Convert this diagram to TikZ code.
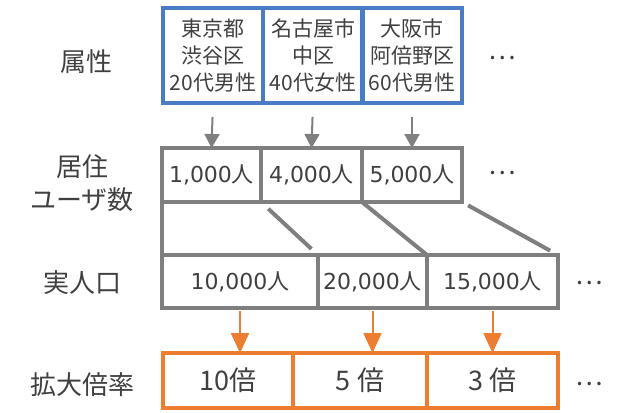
\documentclass[tikz,border=0pt]{standalone}
\usepackage{fontspec}
\setmainfont{Noto Sans CJK JP}
\newfontfamily\numfont{DejaVu Sans}
\usetikzlibrary{arrows.meta}
\definecolor{attrblue}{HTML}{4A7CC6}
\definecolor{boxgray}{HTML}{7F7F7F}
\definecolor{rateorange}{HTML}{ED7D31}
\definecolor{txtgray}{HTML}{404040}
\newcommand{\ppl}[1]{{\numfont #1}人}
\tikzset{
  cell/.style={draw, line width=4pt, outer sep=0pt, inner sep=0pt, text=txtgray},
  attr/.style={cell, draw=attrblue, minimum width=100pt, minimum height=95pt, align=center,
    font=\fontsize{21}{27}\selectfont},
  users/.style={cell, draw=boxgray, minimum height=54pt, font=\fontsize{22}{26}\selectfont},
  pop/.style={cell, draw=boxgray, minimum height=53pt, font=\fontsize{22}{26}\selectfont},
  rate/.style={cell, draw=rateorange, minimum height=55pt, font=\fontsize{27}{30}\selectfont},
  lbl/.style={text=txtgray, align=center, font=\fontsize{26}{33}\selectfont},
  more/.style={text=txtgray, font=\fontsize{26}{30}\selectfont},
  grayarr/.style={boxgray, line width=2pt, -{Triangle[width=15pt,length=14pt]}},
  orangearr/.style={rateorange, line width=2pt, -{Triangle[width=18pt,length=20pt]}},
  funnel/.style={boxgray, line width=4pt}
}
\begin{document}
\begin{tikzpicture}[x=1pt, y=-1pt]
\useasboundingbox (0,0) rectangle (623,412);

% labels on the left
\node[lbl] (lattr) at (86,62) {属性};
\node[lbl] (lusers) at (82,183) {居住\\ユーザ数};
\node[lbl] (lpop) at (82,283) {実人口};
\node[lbl] (lrate) at (82,385) {拡大倍率};

% attributes
\node[attr] (a1) at (213,55.5) {東京都\\渋谷区\\20代男性};
\node[attr] (a2) at (313,55.5) {名古屋市\\中区\\40代女性};
\node[attr] (a3) at (412,55.5) {大阪市\\阿倍野区\\60代男性};
\node[more] (dots1) at (502,58) {…};

% resident users
\node[users, minimum width=99pt] (u1) at (211.5,175) {\ppl{1,000}};
\node[users, minimum width=101pt] (u2) at (311.5,175) {\ppl{4,000}};
\node[users, minimum width=100pt] (u3) at (412,175) {\ppl{5,000}};
\node[more] (dots2) at (502,173) {…};

% population
\node[pop, minimum width=156pt] (p1) at (240,281.5) {\ppl{10,000}};
\node[pop, minimum width=109pt] (p2) at (372.5,281.5) {\ppl{20,000}};
\node[pop, minimum width=131pt] (p3) at (492.5,281.5) {\ppl{15,000}};
\node[more] (dots3) at (589,283) {…};

% scale factor
\node[rate, minimum width=130pt] (r1) at (228,380.5) {10倍};
\node[rate, minimum width=134pt] (r2) at (360,380.5) {5 倍};
\node[rate, minimum width=131pt] (r3) at (492.5,380.5) {3 倍};
\node[more] (dots4) at (589,384) {…};

\draw[grayarr, shorten <=14pt] (a1.south) -- (u1.north);
\draw[grayarr, shorten <=14pt] (a2.south) -- (u2.north);
\draw[grayarr, shorten <=14pt] (a3.south) -- (u3.north);

\draw[funnel] (u1.south west) -- (p1.north west);
\draw[funnel, shorten <=10pt, shorten >=9pt] (u1.south east) -- (p1.north east);
\draw[funnel] (u2.south east) -- (p2.north east);
\draw[funnel, shorten <=7pt, shorten >=9pt] (u3.south east) -- (p3.north east);

\draw[orangearr, shorten <=3pt] (p1.south) -- (p1.south |- r1.north);
\draw[orangearr, shorten <=3pt] (p2.south) -- (p2.south |- r2.north);
\draw[orangearr, shorten <=3pt] (p3.south) -- (p3.south |- r3.north);

\end{tikzpicture}
\end{document}
